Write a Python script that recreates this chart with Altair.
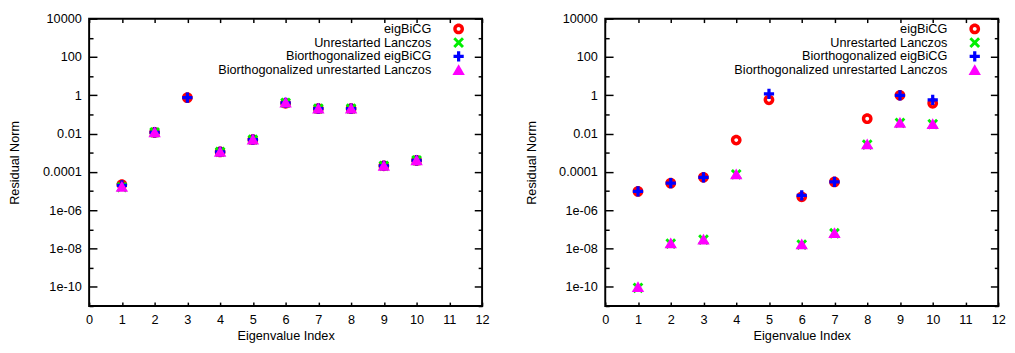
import altair as alt
import pandas as pd

# ---------------- data ----------------
series = [
    "eigBiCG",
    "Unrestarted Lanczos",
    "Biorthogonalized eigBiCG",
    "Biorthogonalized unrestarted Lanczos",
]
colors = ["#ff0000", "#00ee00", "#0000ff", "#ff00ff"]
idx = [1, 2, 3, 4, 5, 6, 7, 8, 9, 10]

# left panel
left_eigbicg = [2.2e-5, 0.0115, 0.75, 1.1e-3, 4.8e-3, 0.38, 0.2, 0.2, 2.1e-4, 4.0e-4]
left_lanczos = [1.6e-5, 0.0115, None, 1.1e-3, 4.8e-3, 0.40, 0.2, 0.2, 2.1e-4, 4.0e-4]
left_bi_eigbicg = [2.0e-5, 0.0115, 0.75, 1.1e-3, 4.8e-3, 0.40, 0.2, 0.2, 2.1e-4, 4.0e-4]
left_bi_lanczos = [1.7e-5, 0.012, None, 1.15e-3, 5.0e-3, 0.42, 0.21, 0.21, 2.1e-4, 4.1e-4]

# right panel
right_eigbicg = [9.6e-6, 2.6e-5, 5.2e-5, 4.6e-3, 0.58, 5.0e-6, 3.0e-5, 0.06, 1.0, 0.38]
right_lanczos = [0.9e-10, 1.8e-8, 2.9e-8, 7.5e-5, None, 1.6e-8, 6.3e-8, 2.7e-3, 0.036, 0.031]
right_bi_eigbicg = [9.6e-6, 2.6e-5, 5.2e-5, None, 1.2, 6.0e-6, 3.0e-5, None, 1.0, 0.58]
right_bi_lanczos = [1.0e-10, 1.9e-8, 3.0e-8, 7.6e-5, None, 1.7e-8, 6.6e-8, 2.8e-3, 0.037, 0.032]

x_ticks = [0, 1, 2, 3, 4, 5, 6, 7, 8, 9, 10, 11, 12]
y_major = [1e4, 1e2, 1, 1e-2, 1e-4, 1e-6, 1e-8, 1e-10]
y_major_exp = [4, 2, 0, -2, -4, -6, -8, -10]
y_major_labels = ["10000", "100", "1", "0.01", "0.0001", "1e-06", "1e-08", "1e-10"]
y_minor = [1e3, 10, 0.1, 1e-3, 1e-5, 1e-7, 1e-9, 1e-11]

# ---------------- styling ----------------
FONT = "Liberation Sans"
FS = 13
W, H = 402, 294

shapes = [
    # red ring
    "M-1,0A1,1,0,1,0,1,0A1,1,0,1,0,-1,0ZM-0.36,0A0.36,0.36,0,1,1,0.36,0A0.36,0.36,0,1,1,-0.36,0Z",
    # green X
    "M-1,-0.62L-0.62,-1L0,-0.38L0.62,-1L1,-0.62L0.38,0L1,0.62L0.62,1L0,0.38L-0.62,1L-1,0.62L-0.38,0Z",
    # blue plus
    "M-0.3,-0.95H0.3V-0.3H0.95V0.3H0.3V0.95H-0.3V0.3H-0.95V-0.3H-0.3Z",
    # magenta triangle
    "M0,-1.05L1.15,0.95L-1.15,0.95Z",
]

label_map = "{" + ",".join(f"'{e}':'{l}'" for e, l in zip(y_major_exp, y_major_labels)) + "}"
label_expr = label_map + "[''+round(log(datum.value)/LN10)]"


def make_df(vals_list):
    rows = []
    for name, vals in zip(series, vals_list):
        for i, v in zip(idx, vals):
            if v is not None:
                rows.append({"idx": i, "val": v, "series": name})
    return pd.DataFrame(rows)


def legend():
    return alt.Legend(
        title=None, orient="none", legendX=371.5, legendY=4,
        labelAlign="right", labelOffset={"expr": "-34.5"}, symbolStrokeWidth=0,
        symbolSize=121, padding=0, rowPadding={"expr": "-3"}, labelLimit=0,
        labelFontSize=FS, labelFont=FONT, labelColor="#000",
        symbolOpacity=1,
    )


def panel(df):
    xs = alt.Scale(domain=[0, 12], nice=False, zero=False)
    ys = alt.Scale(type="log", domain=[1e-11, 1e4], nice=False)

    pts = alt.Chart().mark_point(filled=True, size=121, opacity=1).encode(
        x=alt.X(
            "idx:Q",
            scale=xs,
            axis=alt.Axis(
                orient="bottom", values=x_ticks, offset=-4, tickSize=4,
                labelPadding=8, labelFlush=False, labelOverlap=False,
                format="d", title="Eigenvalue Index", titlePadding=3,
                domain=False, grid=False,
            ),
        ),
        y=alt.Y(
            "val:Q",
            scale=ys,
            axis=alt.Axis(
                orient="left", values=y_major, offset=-8, tickSize=8,
                labelPadding=8, labelOverlap=False, labelExpr=label_expr,
                title="Residual Norm", titlePadding=21, domain=False, grid=False,
            ),
        ),
        color=alt.Color("series:N", scale=alt.Scale(domain=series, range=colors), legend=legend()),
        shape=alt.Shape("series:N", scale=alt.Scale(domain=series, range=shapes), legend=legend()),
    )

    mirror = alt.Chart().mark_point(opacity=0).encode(
        x=alt.X(
            "idx:Q", scale=xs,
            axis=alt.Axis(orient="top", values=x_ticks, offset=-4, tickSize=4,
                          labels=False, title=None, domain=False, grid=False),
        ),
        y=alt.Y(
            "val:Q", scale=ys,
            axis=alt.Axis(orient="right", values=y_major, offset=-8, tickSize=8,
                          labels=False, title=None, domain=False, grid=False),
        ),
    )

    minor_left = alt.Chart().mark_point(opacity=0).encode(
        x=alt.X("idx:Q", scale=xs, axis=None),
        y=alt.Y(
            "val:Q", scale=ys,
            axis=alt.Axis(orient="left", values=y_minor, offset=-4, tickSize=4,
                          labels=False, title=None, domain=False, grid=False),
        ),
    )

    minor_right = alt.Chart().mark_point(opacity=0).encode(
        x=alt.X("idx:Q", scale=xs, axis=None),
        y=alt.Y(
            "val:Q", scale=ys,
            axis=alt.Axis(orient="right", values=y_minor, offset=-4, tickSize=4,
                          labels=False, title=None, domain=False, grid=False),
        ),
    )

    return (
        alt.layer(pts, mirror, minor_left, minor_right, data=df)
        .resolve_axis(x="independent", y="independent")
        .properties(width=W, height=H)
    )


left_df = make_df([left_eigbicg, left_lanczos, left_bi_eigbicg, left_bi_lanczos])
right_df = make_df([right_eigbicg, right_lanczos, right_bi_eigbicg, right_bi_lanczos])

chart = (
    alt.hconcat(panel(left_df), panel(right_df), spacing=34)
    .resolve_scale(color="independent", shape="independent")
    .resolve_legend(color="independent", shape="independent")
    .properties(padding=0, background="white")
    .configure_view(stroke="#000", strokeWidth=2)
    .configure_axis(
        labelFont=FONT, titleFont=FONT, labelFontSize=FS, titleFontSize=FS,
        labelColor="#000", titleColor="#000", titleFontWeight="normal",
        tickColor="#000", tickWidth=1.5,
    )
)

chart.save("out.html", embed_options={"renderer": "svg", "actions": False})
